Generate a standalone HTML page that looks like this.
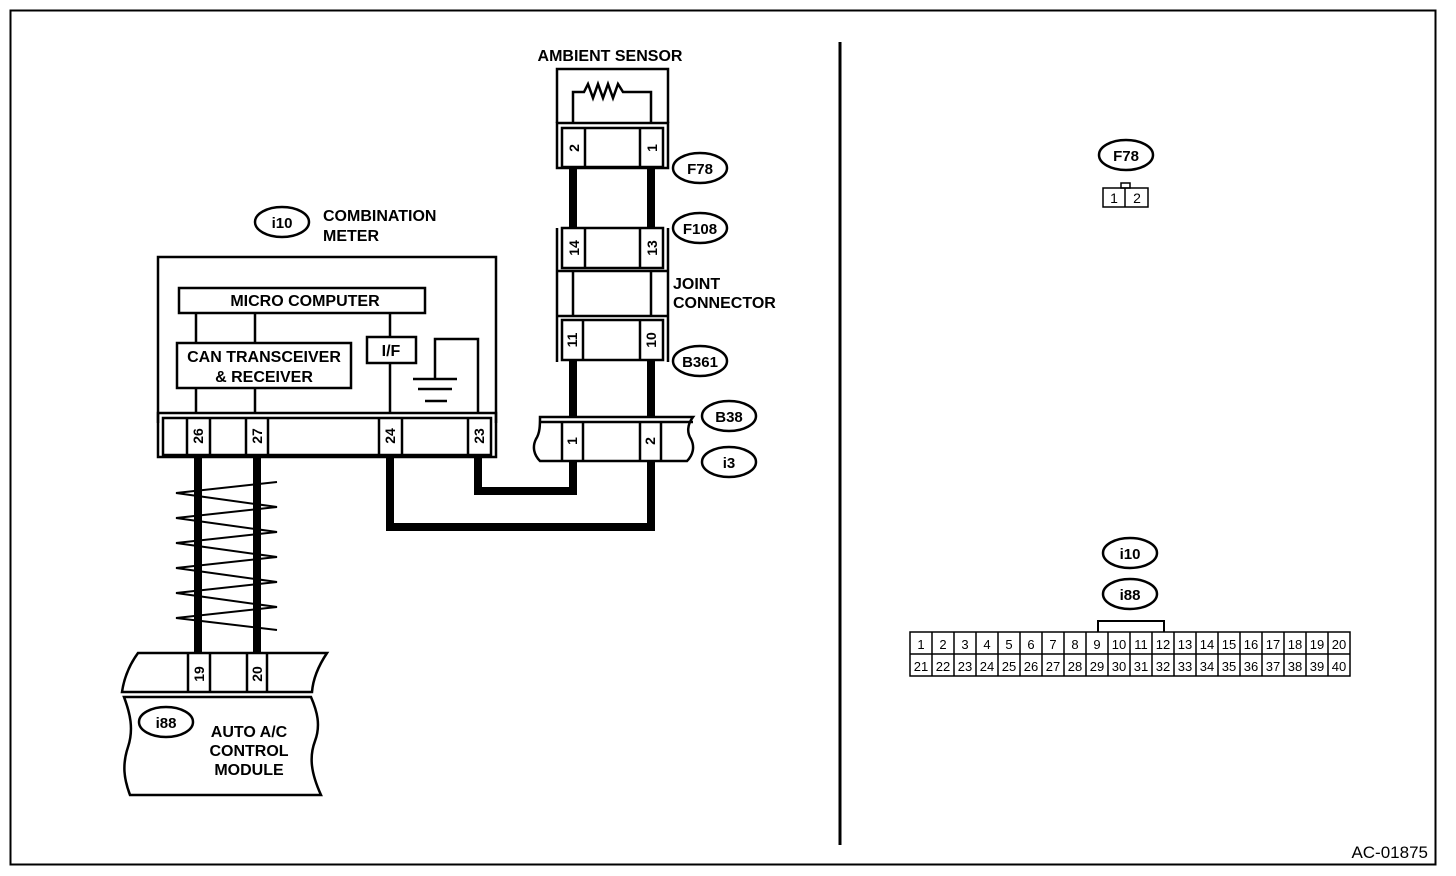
<!DOCTYPE html>
<html><head><meta charset="utf-8"><style>
html,body{margin:0;padding:0;background:#fff;}
svg{display:block;}
text{font-family:"Liberation Sans",Arial,sans-serif;font-weight:bold;fill:#000;}
</style></head><body>
<svg width="1456" height="876" viewBox="0 0 1456 876" xmlns="http://www.w3.org/2000/svg">
<rect x="0" y="0" width="1456" height="876" fill="#fff"/>
<rect x="10.5" y="10.5" width="1425" height="854" fill="none" stroke="#000" stroke-width="2"/>
<line x1="840" y1="42" x2="840" y2="845" stroke="#000" stroke-width="3"/>

<g fill="none" stroke="#000" stroke-width="2.5">
<path d="M557 123 V69 H668 V123"/>
<path d="M573 123 V92 H584 l4 -8 l5 14 l5 -14 l5 14 l5 -14 l5 14 l5 -14 l5 8 H651 V123"/>
<rect x="557" y="123" width="111" height="45"/>
<rect x="562" y="128" width="101" height="39"/>
<line x1="585" y1="128" x2="585" y2="167"/>
<line x1="640" y1="128" x2="640" y2="167"/>
<path d="M557 228 V362 M668 228 V362"/>
<rect x="562" y="228" width="101" height="40"/>
<line x1="557" y1="271" x2="668" y2="271"/>
<line x1="585" y1="228" x2="585" y2="268"/>
<line x1="640" y1="228" x2="640" y2="268"/>
<path d="M573 271 V316 M651 271 V316"/>
<line x1="557" y1="316" x2="668" y2="316"/>
<rect x="562" y="320" width="101" height="40"/>
<line x1="583" y1="320" x2="583" y2="360"/>
<line x1="640" y1="320" x2="640" y2="360"/>
<path d="M540 417 H693 c-6 8 -6 16 -2 22 c4 8 2 16 -4 22 H540 c-6 -6 -8 -14 -4 -22 c4 -6 4 -14 4 -22 Z"/>
<line x1="540" y1="422" x2="693" y2="422"/>
<line x1="562" y1="422" x2="562" y2="461"/>
<line x1="583" y1="422" x2="583" y2="461"/>
<line x1="640" y1="422" x2="640" y2="461"/>
<line x1="661" y1="422" x2="661" y2="461"/>

<path d="M158 423 V257 H496 V423"/>
<rect x="158" y="413" width="338" height="44"/>
<rect x="163" y="418" width="328" height="37"/>
<line x1="187" y1="418" x2="187" y2="455"/><line x1="210" y1="418" x2="210" y2="455"/>
<line x1="246" y1="418" x2="246" y2="455"/><line x1="268" y1="418" x2="268" y2="455"/>
<line x1="379" y1="418" x2="379" y2="455"/><line x1="402" y1="418" x2="402" y2="455"/>
<line x1="468" y1="418" x2="468" y2="455"/>
<rect x="179" y="288" width="246" height="25"/>
<rect x="177" y="343" width="174" height="45"/>
<rect x="367" y="337" width="49" height="26"/>
<path d="M196 313 V343 M255 313 V343 M196 388 V413 M255 388 V413 M390 313 V337 M390 363 V413"/>
<path d="M435 379 V339 H478 V413"/>
<path d="M413 379 H457 M418 389 H452 M425 401 H447"/>

<polyline stroke-width="2" points="277,482 176,493 277,507 176,518 277,532 176,543 277,557 176,568 277,582 176,593 277,607 176,618 277,630"/>

<path d="M138 653 H327 c-8 12 -14 26 -15 39 H122 c2 -14 8 -28 16 -39 Z"/>
<line x1="188" y1="653" x2="188" y2="692"/><line x1="210" y1="653" x2="210" y2="692"/>
<line x1="247" y1="653" x2="247" y2="692"/><line x1="267" y1="653" x2="267" y2="692"/>
<path d="M124 697 H311 c6 14 10 28 4 44 c-6 16 -4 32 6 54 H130 c-6 -16 -8 -30 -2 -48 c6 -18 2 -34 -4 -50 Z"/>

<path d="M1098 632 V621 H1164 V632" stroke-width="2"/>
<rect x="910" y="632" width="440" height="44" stroke-width="1.5"/>
<line x1="910" y1="654" x2="1350" y2="654" stroke-width="1.5"/>
<rect x="1103" y="188" width="45" height="19" stroke-width="1.5"/>
<line x1="1125" y1="188" x2="1125" y2="207" stroke-width="1.5"/>
<rect x="1121" y="183" width="9" height="5" stroke-width="1.5"/>

<ellipse cx="700" cy="168" rx="27" ry="15"/>
<ellipse cx="700" cy="228" rx="27" ry="15"/>
<ellipse cx="700" cy="361" rx="27" ry="15"/>
<ellipse cx="729" cy="416" rx="27" ry="15"/>
<ellipse cx="729" cy="462" rx="27" ry="15"/>
<ellipse cx="282" cy="222" rx="27" ry="15"/>
<ellipse cx="166" cy="722" rx="27" ry="15"/>
<ellipse cx="1126" cy="155" rx="27" ry="15"/>
<ellipse cx="1130" cy="553" rx="27" ry="15"/>
<ellipse cx="1130" cy="594" rx="27" ry="15"/>
</g>

<g fill="none" stroke="#000" stroke-width="8">
<path d="M573 168 V228 M651 168 V228"/>
<path d="M573 360 V417 M651 360 V417"/>
<path d="M198 457 V653 M257 457 V653"/>
<path d="M478 457 V491 H573 V461"/>
<path d="M390 457 V527 H651 V461"/>
</g>

<g font-size="16">
<text x="610" y="61" text-anchor="middle">AMBIENT SENSOR</text>
<text x="323" y="221">COMBINATION</text>
<text x="323" y="241">METER</text>
<text x="673" y="289">JOINT</text>
<text x="673" y="308">CONNECTOR</text>
<text x="305" y="306" text-anchor="middle">MICRO COMPUTER</text>
<text x="264" y="362" text-anchor="middle">CAN TRANSCEIVER</text>
<text x="264" y="382" text-anchor="middle">&amp; RECEIVER</text>
<text x="391" y="356" text-anchor="middle">I/F</text>
<text x="249" y="737" text-anchor="middle">AUTO A/C</text>
<text x="249" y="756" text-anchor="middle">CONTROL</text>
<text x="249" y="775" text-anchor="middle">MODULE</text>
</g>
<g font-size="15">
<text x="700" y="174" text-anchor="middle">F78</text>
<text x="700" y="234" text-anchor="middle">F108</text>
<text x="700" y="367" text-anchor="middle">B361</text>
<text x="729" y="422" text-anchor="middle">B38</text>
<text x="729" y="468" text-anchor="middle">i3</text>
<text x="282" y="228" text-anchor="middle">i10</text>
<text x="166" y="728" text-anchor="middle">i88</text>
<text x="1126" y="161" text-anchor="middle">F78</text>
<text x="1130" y="559" text-anchor="middle">i10</text>
<text x="1130" y="600" text-anchor="middle">i88</text>
</g>
<g font-size="14">
<text transform="translate(579,148) rotate(-90)" text-anchor="middle">2</text>
<text transform="translate(657,148) rotate(-90)" text-anchor="middle">1</text>
<text transform="translate(579,248) rotate(-90)" text-anchor="middle">14</text>
<text transform="translate(657,248) rotate(-90)" text-anchor="middle">13</text>
<text transform="translate(577,340) rotate(-90)" text-anchor="middle">11</text>
<text transform="translate(656,340) rotate(-90)" text-anchor="middle">10</text>
<text transform="translate(577,441) rotate(-90)" text-anchor="middle">1</text>
<text transform="translate(655,441) rotate(-90)" text-anchor="middle">2</text>
<text transform="translate(203,436) rotate(-90)" text-anchor="middle">26</text>
<text transform="translate(262,436) rotate(-90)" text-anchor="middle">27</text>
<text transform="translate(395,436) rotate(-90)" text-anchor="middle">24</text>
<text transform="translate(484,436) rotate(-90)" text-anchor="middle">23</text>
<text transform="translate(204,674) rotate(-90)" text-anchor="middle">19</text>
<text transform="translate(262,674) rotate(-90)" text-anchor="middle">20</text>
</g>
<g font-size="14" text-anchor="middle">
<text x="1114" y="203" style="font-weight:normal">1</text><text x="1137" y="203" style="font-weight:normal">2</text>
</g>
<g stroke="#000" stroke-width="1.5">
<line x1="932" y1="632" x2="932" y2="676"/><line x1="954" y1="632" x2="954" y2="676"/><line x1="976" y1="632" x2="976" y2="676"/><line x1="998" y1="632" x2="998" y2="676"/><line x1="1020" y1="632" x2="1020" y2="676"/><line x1="1042" y1="632" x2="1042" y2="676"/><line x1="1064" y1="632" x2="1064" y2="676"/><line x1="1086" y1="632" x2="1086" y2="676"/><line x1="1108" y1="632" x2="1108" y2="676"/><line x1="1130" y1="632" x2="1130" y2="676"/><line x1="1152" y1="632" x2="1152" y2="676"/><line x1="1174" y1="632" x2="1174" y2="676"/><line x1="1196" y1="632" x2="1196" y2="676"/><line x1="1218" y1="632" x2="1218" y2="676"/><line x1="1240" y1="632" x2="1240" y2="676"/><line x1="1262" y1="632" x2="1262" y2="676"/><line x1="1284" y1="632" x2="1284" y2="676"/><line x1="1306" y1="632" x2="1306" y2="676"/><line x1="1328" y1="632" x2="1328" y2="676"/>
</g>
<g font-size="13" text-anchor="middle">
<text x="921" y="649" style="font-weight:normal">1</text><text x="943" y="649" style="font-weight:normal">2</text><text x="965" y="649" style="font-weight:normal">3</text><text x="987" y="649" style="font-weight:normal">4</text><text x="1009" y="649" style="font-weight:normal">5</text><text x="1031" y="649" style="font-weight:normal">6</text><text x="1053" y="649" style="font-weight:normal">7</text><text x="1075" y="649" style="font-weight:normal">8</text><text x="1097" y="649" style="font-weight:normal">9</text><text x="1119" y="649" style="font-weight:normal">10</text><text x="1141" y="649" style="font-weight:normal">11</text><text x="1163" y="649" style="font-weight:normal">12</text><text x="1185" y="649" style="font-weight:normal">13</text><text x="1207" y="649" style="font-weight:normal">14</text><text x="1229" y="649" style="font-weight:normal">15</text><text x="1251" y="649" style="font-weight:normal">16</text><text x="1273" y="649" style="font-weight:normal">17</text><text x="1295" y="649" style="font-weight:normal">18</text><text x="1317" y="649" style="font-weight:normal">19</text><text x="1339" y="649" style="font-weight:normal">20</text>
<text x="921" y="671" style="font-weight:normal">21</text><text x="943" y="671" style="font-weight:normal">22</text><text x="965" y="671" style="font-weight:normal">23</text><text x="987" y="671" style="font-weight:normal">24</text><text x="1009" y="671" style="font-weight:normal">25</text><text x="1031" y="671" style="font-weight:normal">26</text><text x="1053" y="671" style="font-weight:normal">27</text><text x="1075" y="671" style="font-weight:normal">28</text><text x="1097" y="671" style="font-weight:normal">29</text><text x="1119" y="671" style="font-weight:normal">30</text><text x="1141" y="671" style="font-weight:normal">31</text><text x="1163" y="671" style="font-weight:normal">32</text><text x="1185" y="671" style="font-weight:normal">33</text><text x="1207" y="671" style="font-weight:normal">34</text><text x="1229" y="671" style="font-weight:normal">35</text><text x="1251" y="671" style="font-weight:normal">36</text><text x="1273" y="671" style="font-weight:normal">37</text><text x="1295" y="671" style="font-weight:normal">38</text><text x="1317" y="671" style="font-weight:normal">39</text><text x="1339" y="671" style="font-weight:normal">40</text>
</g>
<text x="1428" y="858" font-size="17" text-anchor="end" style="font-weight:normal">AC-01875</text>
</svg>
</body></html>
